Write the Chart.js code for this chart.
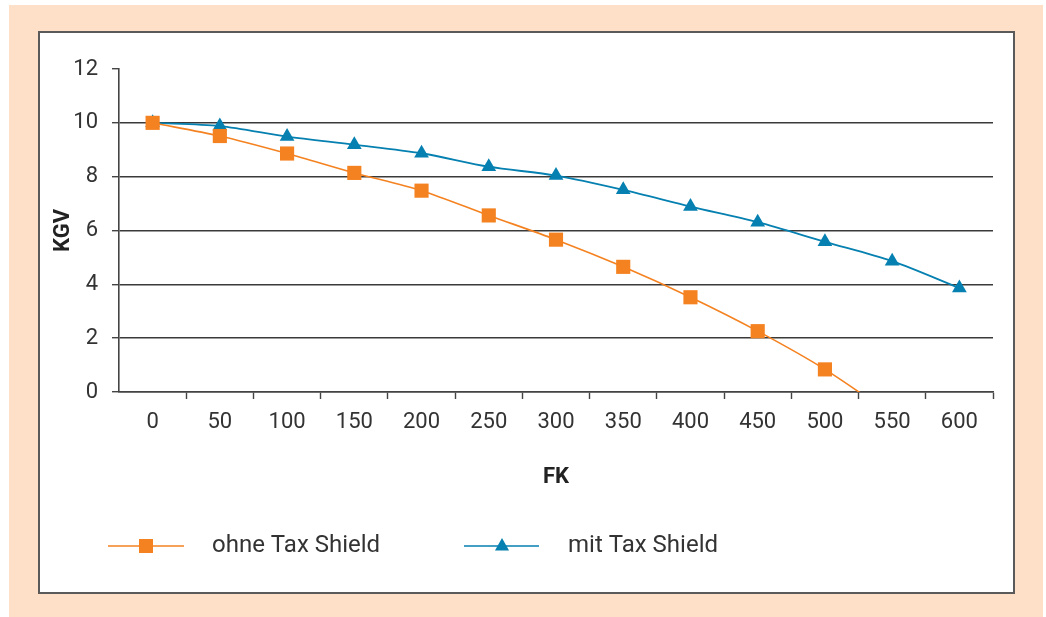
<!DOCTYPE html>
<html>
<head>
<meta charset="utf-8">
<script src="https://cdn.jsdelivr.net/npm/chart.js@4/dist/chart.umd.min.js"></script>
<style>
  html, body { margin: 0; padding: 0; background: #fff; }
  body { width: 1046px; height: 617px; position: relative; overflow: hidden; }
  .frame { position: absolute; left: 9px; top: 5px; width: 1034px; height: 612px; background: #fde0c7; }
  .box { position: absolute; left: 38px; top: 31px; width: 973px; height: 559px;
         background: #fff; border: 2px solid #5a5a5a; }
  #kgvChart { position: absolute; left: 0; top: 0; }
</style>
</head>
<body>
<div class="frame"></div>
<div class="box">
  <canvas id="kgvChart" width="973" height="559"></canvas>
</div>
<script>
const fkLabels = ["0", "50", "100", "150", "200", "250", "300", "350", "400", "450", "500", "550", "600"];
const ohneTaxShield = [10.0, 9.51, 8.86, 8.14, 7.48, 6.56, 5.66, 4.65, 3.52, 2.26, 0.84, -0.85, null];
const mitTaxShield = [10.0, 9.88, 9.49, 9.19, 8.87, 8.37, 8.04, 7.51, 6.89, 6.31, 5.58, 4.86, 3.86];
const yTicks = [0, 2, 4, 6, 8, 10, 12];

const orange = "#f58220";
const blue = "#0580b0";
const textColor = "#333";
const fontFamily = "Roboto, 'Noto Sans', sans-serif";

// legend with a short line through the marker, drawn by hand
const legendPlugin = {
  id: "lineLegend",
  afterDraw(chart) {
    const c = chart.ctx;
    const y = 513;
    const items = [
      { x1: 68, x2: 144, mx: 106, tx: 172, color: orange, style: "rect", text: "ohne Tax Shield" },
      { x1: 424, x2: 499, mx: 462, tx: 528, color: blue, style: "triangle", text: "mit Tax Shield" },
    ];
    c.save();
    items.forEach((it) => {
      c.strokeStyle = it.color;
      c.lineWidth = 1.6;
      c.beginPath();
      c.moveTo(it.x1, y);
      c.lineTo(it.x2, y);
      c.stroke();
      c.fillStyle = it.color;
      if (it.style === "rect") {
        c.fillRect(it.mx - 7, y - 7, 14, 14);
      } else {
        c.beginPath();
        c.moveTo(it.mx, y - 8);
        c.lineTo(it.mx + 7, y + 4.5);
        c.lineTo(it.mx - 7, y + 4.5);
        c.closePath();
        c.fill();
      }
      c.fillStyle = textColor;
      c.font = "24px " + fontFamily;
      c.textBaseline = "middle";
      c.textAlign = "left";
      c.fillText(it.text, it.tx, y);
    });
    c.restore();
  },
};

const ctx = document.getElementById("kgvChart");

new Chart(ctx, {
  type: "line",
  data: {
    labels: fkLabels,
    datasets: [
      {
        label: "ohne Tax Shield",
        data: ohneTaxShield,
        borderColor: orange,
        backgroundColor: orange,
        borderWidth: 1.6,
        pointStyle: "rect",
        pointRadius: 10,
        pointBorderWidth: 0,
        tension: 0.3,
        fill: false,
      },
      {
        label: "mit Tax Shield",
        data: mitTaxShield,
        borderColor: blue,
        backgroundColor: blue,
        borderWidth: 1.8,
        pointStyle: "triangle",
        pointRadius: 8.5,
        pointBorderWidth: 0,
        tension: 0.3,
        fill: false,
      },
    ],
  },
  options: {
    responsive: false,
    animation: false,
    layout: { padding: { left: 0, right: 20, top: 36, bottom: 90 } },
    plugins: {
      legend: { display: false },
      tooltip: { enabled: false },
    },
    scales: {
      x: {
        offset: true,
        grid: {
          offset: true,
          drawOnChartArea: false,
          drawTicks: true,
          tickLength: 7,
          tickWidth: 1.4,
          tickColor: (c) => (c.index === 0 || c.index === fkLabels.length ? "rgba(0,0,0,0)" : "#444"),
        },
        border: { color: "#444", width: 1.6 },
        ticks: {
          color: textColor,
          font: { family: fontFamily, size: 22 },
          padding: 10,
          maxRotation: 0,
          autoSkip: false,
        },
        title: {
          display: true,
          text: "FK",
          color: "#222",
          font: { family: fontFamily, size: 22, weight: "bold" },
          padding: { top: 0, bottom: 11 },
        },
        afterFit: (scale) => { scale.height = 110; },
      },
      y: {
        min: 0,
        max: 12,
        afterBuildTicks: (scale) => { scale.ticks = yTicks.map((v) => ({ value: v })); },
        grid: {
          color: (c) => (c.tick && c.tick.value === 12 ? "rgba(0,0,0,0)" : "#3a3a3a"),
          lineWidth: 1.4,
          tickLength: 7,
          tickColor: "#444",
        },
        border: { color: "#444", width: 1.6 },
        ticks: {
          color: textColor,
          font: { family: fontFamily, size: 22 },
          padding: 14,
        },
        title: {
          display: true,
          text: "KGV",
          color: "#222",
          font: { family: fontFamily, size: 22, weight: "bold" },
          padding: { top: 10, bottom: 0 },
        },
        afterFit: (scale) => { scale.width = 79; },
      },
    },
  },
  plugins: [legendPlugin],
});
</script>
</body>
</html>
